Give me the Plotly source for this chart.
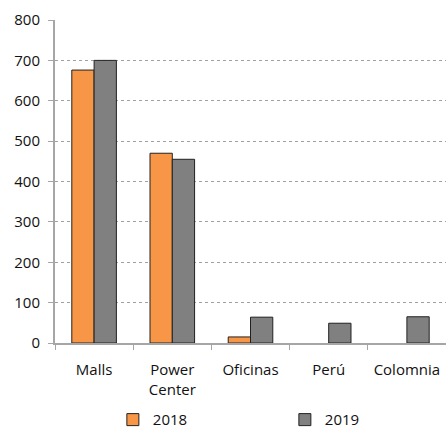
import plotly.graph_objects as go

categories = ["Malls", "Power<br>Center", "Oficinas", "Perú", "Colomnia"]
series_2018 = [676, 470, 15, None, None]
series_2019 = [700, 455, 64, 49, 65]
y_ticks = [0, 100, 200, 300, 400, 500, 600, 700, 800]

fig = go.Figure()
fig.add_trace(go.Bar(name="2018", x=categories, y=series_2018,
                     marker=dict(color="#F79646", line=dict(color="#222222", width=1))))
fig.add_trace(go.Bar(name="2019", x=categories, y=series_2019,
                     marker=dict(color="#808080", line=dict(color="#222222", width=1))))

fig.update_layout(
    width=446, height=428,
    margin=dict(l=55, r=0, t=20, b=85, autoexpand=False),
    paper_bgcolor="white", plot_bgcolor="white",
    barmode="group", bargap=0.43, bargroupgap=0,
    font=dict(family="Open Sans, Liberation Sans, sans-serif", size=15, color="#111111"),
    showlegend=True,
    legend=dict(orientation="h", x=0.148, xanchor="left", y=-0.238, yanchor="middle",
                entrywidth=127, font=dict(size=15), itemwidth=30),
)
fig.update_yaxes(range=[0, 800], tickvals=y_ticks, showgrid=True, gridcolor="#A0A0A0",
                 griddash="dot", gridwidth=1, showline=True, linecolor="#A6A6A6", linewidth=2,
                 ticks="outside", ticklen=5, tickcolor="#A6A6A6", zeroline=False,
                 ticklabelstandoff=5)
fig.update_xaxes(showline=True, linecolor="#A6A6A6", linewidth=2, ticks="outside",
                 tickson="boundaries", ticklen=5, tickcolor="#A6A6A6", range=[-0.5, 4.5],
                 ticklabelstandoff=12)

fig.write_html("out.html")
